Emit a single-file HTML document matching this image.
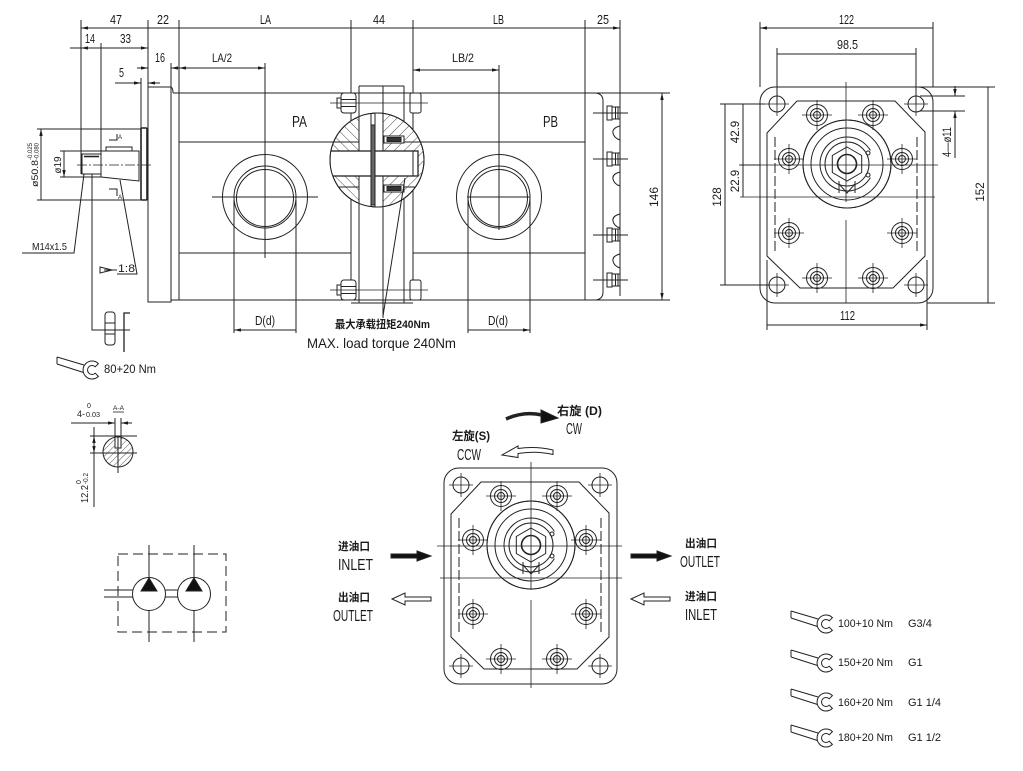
<!DOCTYPE html>
<html><head><meta charset="utf-8">
<style>
html,body{margin:0;padding:0;background:#fff;width:1023px;height:771px;overflow:hidden}
svg{display:block}
text{font-family:"Liberation Sans","Noto Sans CJK SC",sans-serif;fill:#1a1a1a;stroke:none}
.b{font-weight:bold}
</style></head><body>
<svg width="1023" height="771" viewBox="0 0 1023 771" xmlns="http://www.w3.org/2000/svg">
<defs>
<marker id="ar" viewBox="0 0 10 10" refX="10" refY="5" markerWidth="7" markerHeight="7" markerUnits="userSpaceOnUse" orient="auto-start-reverse"><path d="M0,2.6L10,5L0,7.4z" fill="#1a1a1a" stroke="none"/></marker>
<pattern id="hatch" width="4.5" height="4.5" patternUnits="userSpaceOnUse" patternTransform="rotate(45)"><line x1="0" y1="0" x2="0" y2="4.5" stroke="#333" stroke-width="0.8"/></pattern>
<pattern id="hatch2" width="7" height="7" patternUnits="userSpaceOnUse" patternTransform="rotate(45)"><line x1="0" y1="0" x2="0" y2="7" stroke="#333" stroke-width="0.9"/></pattern>
<pattern id="hatch3" width="7" height="7" patternUnits="userSpaceOnUse" patternTransform="rotate(-45)"><line x1="0" y1="0" x2="0" y2="7" stroke="#333" stroke-width="0.9"/></pattern>
<clipPath id="cc"><circle cx="377" cy="160" r="47"/></clipPath>
<g id="bh" fill="none" stroke="#222" stroke-width="1"><circle r="10.5"/><circle r="6.5"/><circle r="3.5"/><path d="M-15,0H15M0,-15V15" stroke-width="0.8"/></g>
<g id="ch" fill="none" stroke="#222" stroke-width="1"><circle r="8"/><path d="M-12,0H12M0,-12V12" stroke-width="0.8"/></g>
<g id="wr" fill="none" stroke="#222" stroke-width="1"><path d="M0,0L27,8M0,7L26.5,15.5M0,0V7"/><path d="M41.4,6.6A9,9 0 1 0 41.4,19.4L38.2,16.2A4.5,4.5 0 1 1 38.2,9.8Z" fill="#fff"/></g>
<g id="pf" fill="none" stroke="#222" stroke-width="1">
 <rect x="760" y="87" width="173" height="216" rx="15"/>
 <path d="M797,101H895L925,132V256L893,288H800L767,256V133Z"/>
 <path d="M775,137V253M917,137V253" stroke-dasharray="10,3"/>
 <use href="#ch" x="777" y="104"/><use href="#ch" x="916" y="104"/><use href="#ch" x="777" y="285"/><use href="#ch" x="916" y="285"/>
 <circle cx="847" cy="164" r="44" fill="#fff"/>
 <use href="#bh" x="817" y="115"/><use href="#bh" x="873" y="115"/>
 <use href="#bh" x="789" y="159"/><use href="#bh" x="902" y="159"/>
 <use href="#bh" x="789" y="233"/><use href="#bh" x="902" y="233"/>
 <use href="#bh" x="817" y="278"/><use href="#bh" x="873" y="278"/>
 <circle cx="847" cy="164" r="44"/>
 <circle cx="847" cy="164" r="36"/>
 <path d="M870.4,150.5A27,27 0 1 0 870.4,177.5"/>
 <circle cx="868" cy="153" r="2"/><circle cx="868" cy="175" r="2"/>
 <circle cx="847" cy="164" r="22"/>
 <path d="M847,147L861.7,155.5V172.5L847,181L832.3,172.5V155.5Z" fill="#fff"/>
 <circle cx="847" cy="164" r="9.5" stroke-width="1.6"/>
 <path d="M839,181V193M855,181V193M839,184L847,193L855,184"/>
</g>
</defs>

<g fill="none" stroke="#222" stroke-width="1">
<path d="M81,20V174M148,20V87M179,20V300M351,20V300M413,20V300M585,20V300M620,20V296M101,43V177M171,63V87M141,78V128"/>
<g marker-start="url(#ar)" marker-end="url(#ar)">
<path d="M81,28H148M148,28H179M179,28H351M351,28H413M413,28H585M585,28H620"/>
<path d="M81,48H101M101,48H148"/>
<path d="M179,68H265"/>
<path d="M413,70H499"/>
<path d="M41,129V200M64,151V177"/>
<path d="M234,330H296M468,330H530"/>
<path d="M662,93V300"/>
</g>
<path d="M70,48H81"/>
<path d="M137,68H148" marker-end="url(#ar)"/>
<path d="M171,68H179" marker-start="url(#ar)"/>
<path d="M115,83H141" marker-end="url(#ar)"/>
<path d="M148,83H160" marker-start="url(#ar)"/>

<rect x="148" y="87" width="23" height="215"/>
<path d="M171,87Q173,88 173,93"/>
<path d="M173,93H670M171,300H670"/>
<path d="M179,142H351M413,142H585M179,253H351M413,253H585"/>
<rect x="141" y="128" width="6" height="72" rx="1" stroke-width="1.6"/>
<path d="M37,129H141M37,200H141"/>
<rect x="82" y="154" width="19" height="20"/>
<path d="M84,156.5H99" stroke-width="1.6"/>
<path d="M60,151H139V181L101,177H60"/>
<rect x="106" y="147" width="26" height="4"/>
<path d="M77,165H152" stroke-dasharray="10,2,2,2" stroke-width="0.8"/>
<path d="M109,140H117V134M109,189H117V196"/>
<path d="M22,253H74L84,174"/>
<path d="M92,174V330H130"/>
<path d="M117,274H137L120,180"/>
<path d="M100,267L112,270L100,273Z"/>
<path d="M104,270H117"/>
<rect x="105" y="312" width="10" height="33" rx="3"/>
<path d="M105,323H115M105,334H115"/>
<path d="M130,313H124V352" stroke-width="1.3"/>

<circle cx="265" cy="197" r="42.5"/><circle cx="265" cy="197" r="31"/><circle cx="265" cy="198" r="28.5"/>
<path d="M212,197H318M265,63V258"/>
<path d="M234,200V333M296,200V333"/>
<circle cx="499" cy="197" r="42.5"/><circle cx="499" cy="197" r="31"/><circle cx="499" cy="198" r="28.5"/>
<path d="M467,197H530M499,65V230"/>
<path d="M468,197V333M530,197V333"/>

<path d="M359,86H404M359,86V303M404,86V303M383,86V318M351,303H413"/>
<rect x="341" y="93" width="15" height="20" rx="3" fill="#fff"/><path d="M341,99.5H356M341,106.5H356"/><rect x="337" y="98" width="4" height="10"/>
<rect x="410" y="93" width="11" height="20" rx="2" fill="#fff"/>
<path d="M330,103H428" stroke-width="0.8"/>
<rect x="341" y="280" width="15" height="20" rx="3" fill="#fff"/><path d="M341,286.5H356M341,293.5H356"/><rect x="337" y="285" width="4" height="10"/>
<rect x="410" y="280" width="11" height="20" rx="2" fill="#fff"/>
<path d="M330,290H428" stroke-width="0.8"/>
<circle cx="377" cy="160" r="47" fill="#fff"/>
<g clip-path="url(#cc)">
 <rect x="328" y="112" width="32" height="97" fill="url(#hatch3)" stroke="none"/>
 <rect x="375" y="112" width="50" height="97" fill="url(#hatch2)" stroke="none"/>
 <rect x="359" y="110" width="12" height="100" fill="#fff"/>
 <rect x="375" y="110" width="8" height="100" fill="#fff"/>
 <path d="M359,110V210M383,110V210"/>
 <rect x="330" y="151" width="88" height="25" fill="#fff" stroke-width="1.3"/>
 <path d="M413,151V176M330,142H359M330,187H359M383,142H420M383,187H420"/>
 <rect x="371" y="125" width="4" height="80" fill="#666"/>
 <rect x="384" y="136" width="20" height="7" fill="#fff"/><rect x="387" y="137.5" width="14" height="4" fill="#333"/>
 <rect x="384" y="185" width="20" height="7" fill="#fff"/><rect x="387" y="186.5" width="14" height="4" fill="#333"/>
</g>
<circle cx="377" cy="160" r="47"/>
<path d="M383,316L405,178"/>

<path d="M596,93Q603,94 603,101V292Q603,299 596,300"/>
<path d="M620,126Q612,128 613,133Q614,138 620,140M620,172Q612,174 613,179Q614,184 620,186M620,214Q612,216 613,221Q614,226 620,228M620,254Q612,256 613,261Q614,266 620,268"/>
<g>
 <rect x="607" y="106" width="5" height="14"/><rect x="612" y="107" width="8" height="12"/><path d="M615.5,107V119M618,107V119M593,113H628" />
 <rect x="607" y="152" width="5" height="14"/><rect x="612" y="153" width="8" height="12"/><path d="M615.5,153V165M618,153V165M593,159H628"/>
 <rect x="607" y="228" width="5" height="14"/><rect x="612" y="229" width="8" height="12"/><path d="M615.5,229V241M618,229V241M593,235H628"/>
 <rect x="607" y="273" width="5" height="14"/><rect x="612" y="274" width="8" height="12"/><path d="M615.5,274V286M618,274V286M593,280H628"/>
</g>

<use href="#pf"/>
<path d="M846,82V202M846,220V303M739,165H938M740,197H935" stroke-width="0.8"/>
<path d="M760,22V87M933,22V87M777,48V104M916,48V104"/>
<path d="M904,87H995M927,303H995"/>
<path d="M720,104H765M720,285H770M740,165H760"/>
<path d="M767,260V330M927,260V330"/>
<path d="M920,96H965M920,111H965"/>
<g marker-start="url(#ar)" marker-end="url(#ar)">
<path d="M760,28H933M777,54H916M988,87V303M725,104V285M743,104V165M743,165V197M767,325H927"/>
</g>
<path d="M955,86V96" marker-end="url(#ar)"/>
<path d="M955,111V158" marker-start="url(#ar)"/>

<circle cx="118" cy="452" r="15" fill="url(#hatch)"/>
<rect x="115" y="437" width="6" height="11" fill="#fff"/>
<path d="M115,418V448M121,418V448M90,436H137M90,453H137M118,437V473"/>
<path d="M71,423H115" marker-end="url(#ar)"/>
<path d="M121,423H132" marker-start="url(#ar)"/>
<path d="M94,436V453" marker-start="url(#ar)" marker-end="url(#ar)"/>
<path d="M94,427V436M94,453V507"/>
<path d="M113,412H124" stroke-width="0.8"/>

<rect x="118" y="554" width="108" height="78" stroke-dasharray="10,5"/>
<path d="M104,590H133M104,597H133M165,590H178M165,597H178"/>
<path d="M149,545V578M149,610V642M194,545V578M194,610V642"/>
<circle cx="149" cy="594" r="16.5" fill="#fff"/>
<circle cx="194" cy="594" r="16.5" fill="#fff"/>
<path d="M149,578L157,591H141Z M194,578L202,591H186Z" fill="#111"/>

<use href="#pf" transform="translate(-316,381)"/>
<path d="M531,462V590M531,600V688M437,546H622M440,578H622" stroke-width="0.8"/>
<path d="M391,554L417,554L417,551L431,556L417,561L417,558L391,558Z" fill="#111"/>
<path d="M631,554L657,554L657,551L671,556L657,561L657,558L631,558Z" fill="#111"/>
<path d="M392,599L405,593L405,597L431,597L431,601L405,601L405,605Z" fill="#fff"/>
<path d="M631,599L644,593L644,597L670,597L670,601L644,601L644,605Z" fill="#fff"/>
<path d="M506,419Q524,411 542,415" stroke-width="3.5"/>
<path d="M541,410L558,418L541,423Z" fill="#111"/>
<path d="M553,450Q536,446 518,448.5L518,446L502,455L518,457.5L518,453.5Q536,450.5 553,454.5Z" fill="#fff"/>

<use href="#wr" x="57" y="357"/>
<use href="#wr" x="791" y="611"/>
<use href="#wr" x="791" y="650"/>
<use href="#wr" x="791" y="689"/>
<use href="#wr" x="791" y="725"/>
</g>

<g font-size="12.5">
<text x="110" y="24" textLength="12" lengthAdjust="spacingAndGlyphs">47</text>
<text x="157" y="24" textLength="12" lengthAdjust="spacingAndGlyphs">22</text>
<text x="260" y="24" textLength="11" lengthAdjust="spacingAndGlyphs">LA</text>
<text x="373" y="24" textLength="12" lengthAdjust="spacingAndGlyphs">44</text>
<text x="493" y="24" textLength="11" lengthAdjust="spacingAndGlyphs">LB</text>
<text x="597" y="24" textLength="12" lengthAdjust="spacingAndGlyphs">25</text>
<text x="85" y="43" textLength="10" lengthAdjust="spacingAndGlyphs">14</text>
<text x="120" y="43" textLength="11" lengthAdjust="spacingAndGlyphs">33</text>
<text x="155" y="62" textLength="10" lengthAdjust="spacingAndGlyphs">16</text>
<text x="212" y="62" font-size="12" textLength="20" lengthAdjust="spacingAndGlyphs">LA/2</text>
<text x="119" y="77" textLength="5" lengthAdjust="spacingAndGlyphs">5</text>
<text x="452" y="62" font-size="12" textLength="22" lengthAdjust="spacingAndGlyphs">LB/2</text>
<text x="292" y="127" font-size="16" textLength="15" lengthAdjust="spacingAndGlyphs">PA</text>
<text x="543" y="127" font-size="16" textLength="15" lengthAdjust="spacingAndGlyphs">PB</text>
<text x="255" y="325" font-size="13" textLength="20" lengthAdjust="spacingAndGlyphs">D(d)</text>
<text x="488" y="325" font-size="13" textLength="20" lengthAdjust="spacingAndGlyphs">D(d)</text>
<text x="32" y="250" font-size="10.5" textLength="35" lengthAdjust="spacingAndGlyphs">M14x1.5</text>
<text x="118" y="272" font-size="11" textLength="17" lengthAdjust="spacingAndGlyphs">1:8</text>
<text transform="translate(658,197) rotate(-90)" text-anchor="middle" font-size="12">146</text>
<text transform="translate(61,165) rotate(-90)" text-anchor="middle" font-size="10">ø19</text>
<text transform="translate(38,187) rotate(-90)" font-size="9.5" textLength="27" lengthAdjust="spacingAndGlyphs">ø50.8</text>
<text transform="translate(32,160) rotate(-90)" font-size="6.5" textLength="17" lengthAdjust="spacingAndGlyphs">-0.025</text>
<text transform="translate(38.5,160) rotate(-90)" font-size="6.5" textLength="17" lengthAdjust="spacingAndGlyphs">-0.080</text>
<text x="118" y="139" font-size="6" text-anchor="start">A</text>
<text x="118" y="199" font-size="6" text-anchor="start">A</text>

<text x="839" y="24" textLength="15" lengthAdjust="spacingAndGlyphs">122</text>
<text x="837" y="49" textLength="21" lengthAdjust="spacingAndGlyphs">98.5</text>
<text x="840" y="320" textLength="15" lengthAdjust="spacingAndGlyphs">112</text>
<text transform="translate(721,197) rotate(-90)" text-anchor="middle" font-size="11.5">128</text>
<text transform="translate(739,132) rotate(-90)" text-anchor="middle" font-size="11.5">42.9</text>
<text transform="translate(739,181) rotate(-90)" text-anchor="middle" font-size="11.5">22.9</text>
<text transform="translate(984,192) rotate(-90)" text-anchor="middle" font-size="11.5">152</text>
<text transform="translate(951,142) rotate(-90)" text-anchor="middle" font-size="11.5" textLength="30" lengthAdjust="spacingAndGlyphs">4—ø11</text>

<text x="77" y="417" font-size="9">4-</text>
<text x="87" y="408" font-size="7">0</text>
<text x="86" y="417" font-size="7" textLength="14" lengthAdjust="spacingAndGlyphs">0.03</text>
<text x="113" y="410" font-size="6.5" textLength="11" lengthAdjust="spacingAndGlyphs">A-A</text>
<text transform="translate(88,503) rotate(-90)" font-size="10" textLength="18" lengthAdjust="spacingAndGlyphs">12.2</text>
<text transform="translate(88,484) rotate(-90)" font-size="7" textLength="11" lengthAdjust="spacingAndGlyphs">-0.2</text>
<text transform="translate(81,484) rotate(-90)" font-size="7">0</text>
</g>

<text x="335" y="328" class="b" font-size="11" textLength="95" lengthAdjust="spacingAndGlyphs">最大承载扭矩240Nm</text>
<text x="307" y="348" font-size="14" textLength="149" lengthAdjust="spacingAndGlyphs">MAX. load torque 240Nm</text>
<text x="104" y="373" font-size="11.5" textLength="52" lengthAdjust="spacingAndGlyphs">80+20 Nm</text>

<text x="557" y="415" class="b" font-size="12" textLength="45" lengthAdjust="spacingAndGlyphs">右旋 (D)</text>
<text x="566" y="434" font-size="15.5" textLength="16" lengthAdjust="spacingAndGlyphs">CW</text>
<text x="452" y="440" class="b" font-size="12" textLength="38" lengthAdjust="spacingAndGlyphs">左旋(S)</text>
<text x="457" y="460" font-size="15.5" textLength="24" lengthAdjust="spacingAndGlyphs">CCW</text>
<text x="338" y="550" class="b" font-size="11" textLength="32" lengthAdjust="spacingAndGlyphs">进油口</text>
<text x="338" y="570" font-size="15.5" textLength="35" lengthAdjust="spacingAndGlyphs">INLET</text>
<text x="338" y="601" class="b" font-size="11" textLength="32" lengthAdjust="spacingAndGlyphs">出油口</text>
<text x="333" y="621" font-size="15.5" textLength="40" lengthAdjust="spacingAndGlyphs">OUTLET</text>
<text x="685" y="547" class="b" font-size="11" textLength="32" lengthAdjust="spacingAndGlyphs">出油口</text>
<text x="680" y="567" font-size="15.5" textLength="40" lengthAdjust="spacingAndGlyphs">OUTLET</text>
<text x="685" y="600" class="b" font-size="11" textLength="32" lengthAdjust="spacingAndGlyphs">进油口</text>
<text x="685" y="620" font-size="15.5" textLength="32" lengthAdjust="spacingAndGlyphs">INLET</text>

<g font-size="11">
<text x="838" y="627" textLength="55" lengthAdjust="spacingAndGlyphs">100+10 Nm</text><text x="908" y="627">G3/4</text>
<text x="838" y="666" textLength="55" lengthAdjust="spacingAndGlyphs">150+20 Nm</text><text x="908" y="666">G1</text>
<text x="838" y="706" textLength="55" lengthAdjust="spacingAndGlyphs">160+20 Nm</text><text x="908" y="706">G1  1/4</text>
<text x="838" y="741" textLength="55" lengthAdjust="spacingAndGlyphs">180+20 Nm</text><text x="908" y="741">G1  1/2</text>
</g>
</svg>
</body></html>
